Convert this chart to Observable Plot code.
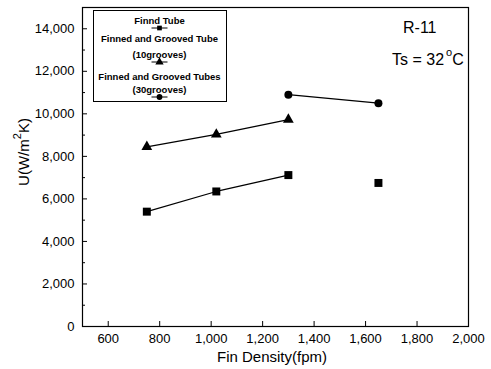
<!DOCTYPE html>
<html>
<head>
<meta charset="utf-8">
<script src="https://cdn.jsdelivr.net/npm/d3@7"></script>
<script src="https://cdn.jsdelivr.net/npm/@observablehq/plot@0.6"></script>
<style>
  html, body { margin: 0; padding: 0; background: white; }
  #wrap { position: relative; width: 491px; height: 369px; font-family: "Liberation Sans", Arial, sans-serif; }
  #overlay { position: absolute; left: 0; top: 0; }
  .ann { position: absolute; font-size: 16px; line-height: 16px; color: black; white-space: nowrap; }
  .ann sup { font-size: 11px; position: relative; top: -3px; margin-left: 2px; }
</style>
</head>
<body>
<div id="wrap"></div>
<script>
// ---- data ----
const seriesNames = ["Finnd Tube", "Finned and Grooved Tube (10grooves)", "Finned and Grooved Tubes (30grooves)"];
const finnedX = [750, 1020, 1300, 1650];
const finnedU = [5400, 6350, 7120, 6750];
const finnedConnected = [true, true, true, false];
const grooved10X = [750, 1020, 1300];
const grooved10U = [8450, 9030, 9730];
const grooved30X = [1300, 1650];
const grooved30U = [10900, 10500];
const xTicks = [600, 800, 1000, 1200, 1400, 1600, 1800, 2000];
const yTicks = [0, 2000, 4000, 6000, 8000, 10000, 12000, 14000];
const yMinorTicks = [1000, 3000, 5000, 7000, 9000, 11000, 13000];
const xLabel = "Fin Density(fpm)";
const yLabelParts = ["U(W/m", "2", "K)"];

const finned = finnedX.map((x, i) => ({x, u: finnedU[i], c: finnedConnected[i]}));
const g10 = grooved10X.map((x, i) => ({x, u: grooved10U[i]}));
const g30 = grooved30X.map((x, i) => ({x, u: grooved30U[i]}));
const fmt = d3.format(",");
const FONT = '"Liberation Sans", Arial, sans-serif';

const chart = Plot.plot({
  width: 491, height: 369,
  marginLeft: 82, marginRight: 23, marginTop: 7, marginBottom: 43,
  x: {domain: [500, 2000]},
  y: {domain: [0, 15000]},
  style: {fontFamily: FONT, fontSize: "13px", color: "black", background: "white"},
  marks: [
    Plot.frame({stroke: "black", strokeWidth: 1.2}),
    Plot.axisY(yTicks, {tickSize: -5, tickPadding: 13, tickFormat: fmt, label: null, fontSize: 13}),
    Plot.axisY(yMinorTicks, {tickSize: -3, tickFormat: () => "", label: null}),
    Plot.axisX(xTicks, {tickSize: -5, tickPadding: 12, tickFormat: fmt, label: null, fontSize: 13}),
    Plot.line(finned.filter(d => d.c), {x: "x", y: "u", stroke: "black", strokeWidth: 1.2}),
    Plot.line(g10, {x: "x", y: "u", stroke: "black", strokeWidth: 1.2}),
    Plot.line(g30, {x: "x", y: "u", stroke: "black", strokeWidth: 1.2}),
    Plot.dot(finned, {x: "x", y: "u", symbol: "square", r: 4.5, fill: "black"}),
    Plot.dot(g10, {x: "x", y: "u", symbol: "triangle", r: 4, fill: "black"}),
    Plot.dot(g30, {x: "x", y: "u", symbol: "circle", r: 4, fill: "black"})
  ]
});
const wrap = document.getElementById("wrap");
wrap.appendChild(chart);

// annotations
const a1 = document.createElement("div");
a1.className = "ann"; a1.style.left = "403px"; a1.style.top = "20px"; a1.textContent = "R-11";
wrap.appendChild(a1);
const a2 = document.createElement("div");
a2.className = "ann"; a2.style.left = "392px"; a2.style.top = "47px"; a2.innerHTML = "Ts = 32<sup>o</sup>C";
wrap.appendChild(a2);

// overlay: axis titles + legend
const ov = d3.select(wrap).append("svg").attr("id", "overlay").attr("width", 491).attr("height", 369)
  .attr("font-family", FONT);
ov.append("text").attr("x", 272).attr("y", 356).attr("text-anchor", "middle")
  .attr("dominant-baseline", "central").attr("font-size", 15).text(xLabel);
const yl = ov.append("text").attr("transform", "translate(23,152) rotate(-90)").attr("text-anchor", "middle")
  .attr("dominant-baseline", "central").attr("font-size", 15);
yl.append("tspan").text(yLabelParts[0]);
yl.append("tspan").attr("dy", -6).attr("font-size", 11).text(yLabelParts[1]);
yl.append("tspan").attr("dy", 6).text(yLabelParts[2]);

ov.append("rect").attr("x", 93.5).attr("y", 10.5).attr("width", 133).attr("height", 91)
  .attr("fill", "white").attr("stroke", "black").attr("stroke-width", 1);
const cx = 159.5;
const legendRows = [
  {lines: ["Finnd Tube"], ys: [20], my: 28, sym: d3.symbolSquare, size: 22},
  {lines: ["Finned and Grooved Tube", "(10grooves)"], ys: [38, 54], my: 62, sym: d3.symbolTriangle, size: 30},
  {lines: ["Finned and Grooved Tubes", "(30grooves)"], ys: [76, 89], my: 97, sym: d3.symbolCircle, size: 26}
];
legendRows.forEach(r => {
  r.lines.forEach((t, i) => {
    ov.append("text").attr("x", cx).attr("y", r.ys[i]).attr("text-anchor", "middle")
      .attr("dominant-baseline", "central").attr("font-size", 9.5).attr("font-weight", "bold").text(t);
  });
  ov.append("line").attr("x1", cx - 8).attr("x2", cx + 8).attr("y1", r.my).attr("y2", r.my)
    .attr("stroke", "black").attr("stroke-width", 1);
  ov.append("path").attr("d", d3.symbol(r.sym, r.size)()).attr("transform", `translate(${cx},${r.my})`).attr("fill", "black");
});
</script>
</body>
</html>
